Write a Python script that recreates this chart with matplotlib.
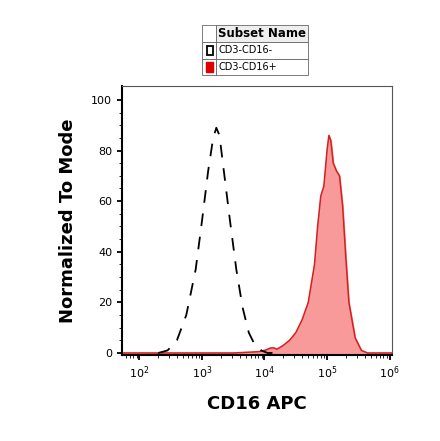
import matplotlib.pyplot as plt
import numpy as np

# dashed population (CD3-CD16-): log10 x, y
neg_x = [2.3, 2.45, 2.6, 2.75, 2.9, 3.0, 3.1, 3.18, 3.23, 3.28, 3.35, 3.45, 3.55, 3.65, 3.75, 3.85, 3.95, 4.05, 4.2]
neg_y = [0, 1, 5, 15, 33, 52, 72, 85, 89, 86, 72, 52, 33, 18, 8, 3, 1, 0, 0]

# filled population (CD3-CD16+)
pos_x = [1.7, 3.5, 3.9, 4.0, 4.1, 4.15, 4.2, 4.3, 4.4, 4.5, 4.6, 4.7, 4.8, 4.85, 4.9, 4.95, 5.0, 5.03, 5.06, 5.1, 5.15, 5.2, 5.25, 5.3, 5.35, 5.45, 5.55, 5.65, 6.05]
pos_y = [0, 0, 0.5, 1, 2, 2, 1.5, 3, 5, 8, 13, 20, 35, 50, 62, 66, 80, 86, 84, 75, 72, 70, 58, 38, 20, 6, 1, 0, 0]

fig = plt.figure(figsize=(4.4, 4.41), dpi=100)
ax = fig.add_axes([0.277, 0.195, 0.614, 0.61])

ax.fill_between(10 ** np.array(pos_x), pos_y, color='#f99a9a', zorder=1)
ax.plot(10 ** np.array(pos_x), pos_y, color='#d42020', lw=1.1, zorder=2)
ax.plot(10 ** np.array(neg_x), neg_y, color='black', lw=1.3, ls=(0, (7, 6)), zorder=3)

ax.set_xscale('log')
ax.set_xlim(10 ** 1.72, 10 ** 6.04)
ax.set_ylim(-0.8, 105.5)
ax.set_xticks([1e2, 1e3, 1e4, 1e5, 1e6])
ax.set_yticks([0, 20, 40, 60, 80, 100])
ax.set_yticks(np.arange(0, 101, 5), minor=True)
for s in ax.spines.values():
    s.set_color('#555555')
ax.spines['left'].set_color('black')
ax.spines['bottom'].set_color('black')
ax.spines['left'].set_linewidth(1.5)
ax.spines['bottom'].set_linewidth(1.5)
ax.tick_params(labelsize=8, width=1.3)
ax.set_xlabel('CD16 APC', fontsize=13, fontweight='bold', labelpad=10)
ax.set_ylabel('Normalized To Mode', fontsize=13, fontweight='bold', labelpad=10)

# legend table
cells = [['', 'Subset Name'], ['', 'CD3-CD16-'], ['', 'CD3-CD16+']]
tab = ax.table(cellText=cells, colWidths=[0.13, 0.87], cellLoc='left',
               bbox=[0.296, 1.04, 0.394, 0.185])
tab.auto_set_font_size(False)
for (r, c), cell in tab.get_celld().items():
    cell.set_linewidth(0.6)
    cell.set_edgecolor('#666666')
    cell.PAD = 0.03
    cell.get_text().set_fontsize(7 if r else 8.5)
    if r == 0 and c == 1:
        cell.get_text().set_fontweight('bold')
        cell.set_facecolor('#eeeeee')
ax.add_patch(plt.Rectangle((0.3135, 1.116), 0.022, 0.032, transform=ax.transAxes,
                           facecolor='white', edgecolor='black', lw=1.3, clip_on=False))
ax.add_patch(plt.Rectangle((0.3125, 1.053), 0.024, 0.036, transform=ax.transAxes,
                           color='#e00000', clip_on=False))

fig.savefig('out.png', dpi=100)
